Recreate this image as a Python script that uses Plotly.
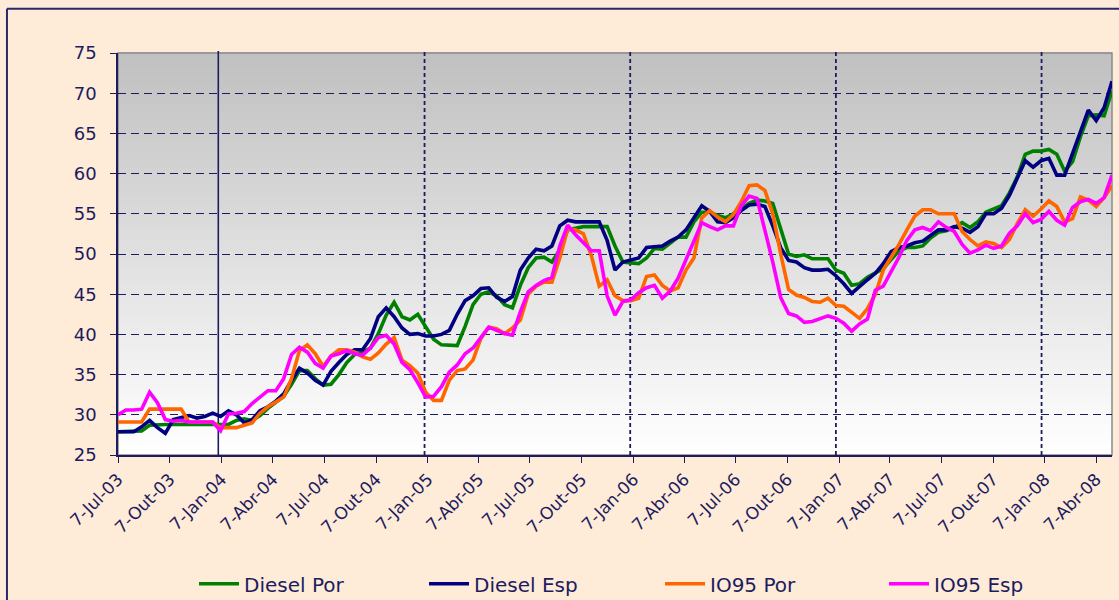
import plotly.graph_objects as go
import pandas as pd

# Weekly fuel prices sampled every two weeks (cents per litre, before taxes)
start_date = "2003-07-07"
step_days = 14

diesel_por = [
    27.9, 27.9, 27.9, 28.0, 28.7, 28.8, 28.8, 28.8, 28.8, 28.8,
    28.8, 28.8, 28.8, 28.8, 28.8, 29.3, 29.5, 29.3, 29.9, 30.8,
    31.5, 32.3, 33.8, 35.5, 35.5, 34.5, 33.7, 33.8, 35.0, 36.5,
    37.5, 37.8, 38.3, 40.1, 42.4, 44.0, 42.2, 41.8, 42.5, 41.0,
    39.4, 38.7, 38.6, 38.6, 41.0, 43.7, 45.0, 45.3, 44.8, 43.7,
    43.3, 46.1, 48.3, 49.5, 49.6, 49.0, 50.5, 53.0, 53.2, 53.4,
    53.4, 53.4, 53.4, 51.0, 49.0, 48.9, 48.8, 49.5, 50.7, 50.6,
    51.3, 52.1, 52.1, 54.0, 55.2, 55.2, 54.8, 54.5, 55.0, 55.6,
    56.3, 56.7, 56.6, 56.3, 53.0, 50.0, 49.7, 49.9, 49.4, 49.4,
    49.4, 48.0, 47.6, 46.1, 46.3, 47.1, 47.6, 48.2, 49.3, 50.4,
    50.8, 50.8, 51.0, 52.0, 52.7, 52.9, 53.3, 53.9, 53.3, 54.0,
    55.2, 55.6, 56.0, 57.6, 59.6, 62.4, 62.8, 62.8, 63.0, 62.4,
    60.3, 61.5, 64.6, 67.2, 67.3, 67.2, 70.3,
]
diesel_esp = [
    27.9, 27.9, 27.9, 28.5, 29.3, 28.4, 27.7, 29.4, 29.7, 29.9,
    29.6, 29.8, 30.2, 29.8, 30.5, 30.0, 29.0, 29.4, 30.5, 31.0,
    31.7, 32.6, 34.3, 35.8, 35.2, 34.3, 33.7, 35.4, 36.5, 37.5,
    38.1, 38.1, 39.5, 42.2, 43.3, 42.2, 40.8, 40.0, 40.1, 39.8,
    39.8, 40.0, 40.5, 42.5, 44.2, 44.8, 45.7, 45.8, 44.6, 44.1,
    44.7, 48.0, 49.5, 50.6, 50.4, 51.0, 53.5, 54.2, 54.0, 54.0,
    54.0, 54.0, 51.7, 48.0, 49.0, 49.2, 49.5, 50.8, 50.9, 51.0,
    51.6, 52.1, 53.0, 54.5, 56.0, 55.3, 54.0, 53.9, 54.5, 55.4,
    56.1, 56.2, 55.9, 53.5, 50.8, 49.2, 49.0, 48.3, 48.0, 48.0,
    48.1, 47.3, 46.3, 45.1, 46.0, 46.8, 47.6, 48.8, 50.3, 50.8,
    51.0, 51.4, 51.6, 52.3, 53.0, 53.0, 53.4, 53.2, 52.7, 53.4,
    55.0, 55.0, 55.7, 57.3, 59.4, 61.6, 60.8, 61.6, 61.9, 59.8,
    59.8, 62.4, 65.0, 67.9, 66.6, 68.2, 71.5,
]
io95_por = [
    29.1, 29.1, 29.1, 29.1, 30.7, 30.7, 30.7, 30.7, 30.7, 29.1,
    29.1, 29.1, 29.1, 28.4, 28.4, 28.4, 28.7, 29.0, 30.2, 31.0,
    31.6, 32.2, 34.5, 38.0, 38.7, 37.6, 36.0, 37.3, 38.1, 38.1,
    37.8, 37.2, 36.9, 37.7, 38.8, 39.6, 36.8, 36.1, 35.2, 32.8,
    31.8, 31.8, 34.3, 35.5, 35.7, 36.8, 39.5, 40.9, 40.7, 40.1,
    40.8, 41.8, 45.0, 46.0, 46.5, 46.5, 49.5, 53.1, 53.0, 52.5,
    49.8, 46.0, 46.8, 44.8, 44.2, 44.2, 44.5, 47.2, 47.4, 46.1,
    45.4, 45.8, 48.0, 49.5, 54.5, 55.4, 54.6, 54.0, 54.9, 56.5,
    58.5, 58.6, 57.9, 55.0, 50.0, 45.6, 44.9, 44.6, 44.1, 44.0,
    44.5, 43.6, 43.5, 42.7, 42.0, 43.2, 45.0, 48.0, 49.5, 51.2,
    53.0, 54.7, 55.5, 55.5, 55.0, 55.0, 55.0, 52.8, 51.8, 51.0,
    51.5, 51.3, 50.8, 51.8, 53.8, 55.5, 54.7, 55.6, 56.6, 55.9,
    54.0, 54.4, 57.1, 56.7, 55.9, 57.0, 58.5,
]
io95_esp = [
    30.0, 30.6, 30.6, 30.7, 32.8, 31.5, 29.4, 29.2, 29.3, 29.1,
    29.1, 29.1, 29.1, 28.0, 30.1, 30.2, 30.4, 31.4, 32.2, 33.0,
    33.0, 34.5, 37.5, 38.4, 37.8, 36.4, 35.8, 37.3, 37.6, 38.0,
    37.6, 37.4, 38.3, 39.6, 39.9, 38.8, 36.5, 35.6, 34.0, 32.2,
    32.3, 33.5, 35.3, 36.2, 37.6, 38.3, 39.6, 40.9, 40.5, 40.1,
    39.9, 42.8, 45.3, 46.1, 46.7, 47.1, 51.0, 53.6, 52.4, 51.4,
    50.4, 50.4, 44.8, 42.4, 44.1, 44.3, 45.2, 45.8, 46.1, 44.5,
    45.4, 47.0, 49.3, 51.5, 53.9, 53.4, 53.0, 53.5, 53.5, 56.0,
    57.2, 56.9, 53.0, 49.0, 44.6, 42.6, 42.3, 41.5, 41.6, 41.9,
    42.3, 42.0, 41.4, 40.4, 41.3, 41.9, 45.5, 46.0, 47.8, 49.6,
    51.7, 53.0, 53.3, 52.9, 54.0, 53.3, 52.8, 51.2, 50.1, 50.5,
    51.1, 50.7, 51.0, 52.6, 53.5, 55.0, 53.9, 54.3, 55.3, 54.2,
    53.6, 55.8, 56.5, 56.8, 56.3, 57.0, 59.8,
]

series_names = ["Diesel Por", "Diesel Esp", "IO95 Por", "IO95 Esp"]
series_colors = ["#008000", "#000080", "#FF6600", "#FF00FF"]

# Quarterly axis labels (Portuguese month abbreviations)
tick_dates = pd.date_range("2003-07-01", "2008-04-01", freq="3MS") + pd.Timedelta(days=6)
month_pt = {1: "Jan", 4: "Abr", 7: "Jul", 10: "Out"}
tick_text = [f"{d.day}-{month_pt[d.month]}-{d.strftime('%y')}" for d in tick_dates]

# Year boundaries marked with vertical lines
year_marks = ["2004-01-01", "2005-01-01", "2006-01-01", "2007-01-01", "2008-01-01"]

dates = pd.date_range(start_date, periods=len(diesel_por), freq=f"{step_days}D")

navy = "#1c1c5e"
font_family = "DejaVu Sans, Verdana, sans-serif"

fig = go.Figure()
legend_ids = ["legend", "legend2", "legend3", "legend4"]
for name, vals, col, lg in zip(series_names, [diesel_por, diesel_esp, io95_por, io95_esp],
                               series_colors, legend_ids):
    fig.add_trace(go.Scatter(
        x=dates, y=vals, name=name, mode="lines", legend=lg,
        line=dict(color=col, width=3.6),
    ))

shapes = []
# Vertical grey-to-white gradient behind the plot area
n_bands = 120
for k in range(n_bands):
    t = k / (n_bands - 1)
    g = int(round(192 + (255 - 192) * t))
    shapes.append(dict(
        type="rect", xref="paper", yref="paper",
        x0=0, x1=1, y0=1 - (k + 1) / n_bands, y1=1 - k / n_bands + 0.002,
        fillcolor=f"rgb({g},{g},{g})", line=dict(width=0), layer="below",
    ))
# Plot area frame
shapes.append(dict(type="rect", xref="paper", yref="paper", x0=0, x1=1, y0=0, y1=1,
                   line=dict(color="#8a8a8a", width=1.5), layer="below"))
# Year separators: first solid, the rest dashed
for j, d in enumerate(year_marks):
    shapes.append(dict(
        type="line", xref="x", yref="paper", x0=d, x1=d, y0=0, y1=1.005,
        line=dict(color=navy, width=1.6 if j == 0 else 1.8, dash="solid" if j == 0 else "4px,3px"),
        layer="between",
    ))
# Outer chart border
shapes.append(dict(type="line", xref="paper", yref="paper", x0=-0.1117, x1=-0.1117, y0=-0.4, y1=1.11,
                   line=dict(color="#2a2a6a", width=2)))
shapes.append(dict(type="line", xref="paper", yref="paper", x0=-0.1117, x1=1.02, y0=1.11, y1=1.11,
                   line=dict(color="#2a2a6a", width=2)))

# One legend per series so each entry sits at its own spot along the bottom
legend_x = [194, 424, 660, 884]
legend_cfg = {}
for lg, px in zip(legend_ids, legend_x):
    legend_cfg[lg] = dict(
        orientation="h", xref="container", yref="container",
        x=px / 1119, y=0.027, xanchor="left", yanchor="middle",
        font=dict(size=20, color=navy), bgcolor="rgba(0,0,0,0)",
        itemwidth=40,
    )

fig.update_layout(
    width=1119, height=600,
    margin=dict(l=118, r=7, t=53, b=145, autoexpand=False),
    paper_bgcolor="#FEEBD8",
    plot_bgcolor="rgba(0,0,0,0)",
    font=dict(family=font_family, color=navy, size=17),
    showlegend=True,
    shapes=shapes,
    **legend_cfg,
)
fig.update_xaxes(
    type="date", range=[dates[0], dates[-1]],
    tickmode="array", tickvals=tick_dates, ticktext=tick_text, tickangle=-45,
    ticks="outside", ticklen=6, tickcolor=navy, tickfont=dict(size=17, color=navy),
    showgrid=False, zeroline=False, automargin=False,
    showline=True, linecolor=navy, linewidth=1.5,
)
fig.update_yaxes(
    range=[25, 75], dtick=5, tick0=25,
    ticks="outside", ticklen=6, tickcolor=navy, tickfont=dict(size=18, color=navy),
    ticklabelstandoff=10, automargin=False,
    showgrid=True, gridcolor=navy, gridwidth=1, griddash="8px,5px",
    zeroline=False, showline=True, linecolor=navy, linewidth=1.5,
)

fig.write_html("out.html")
